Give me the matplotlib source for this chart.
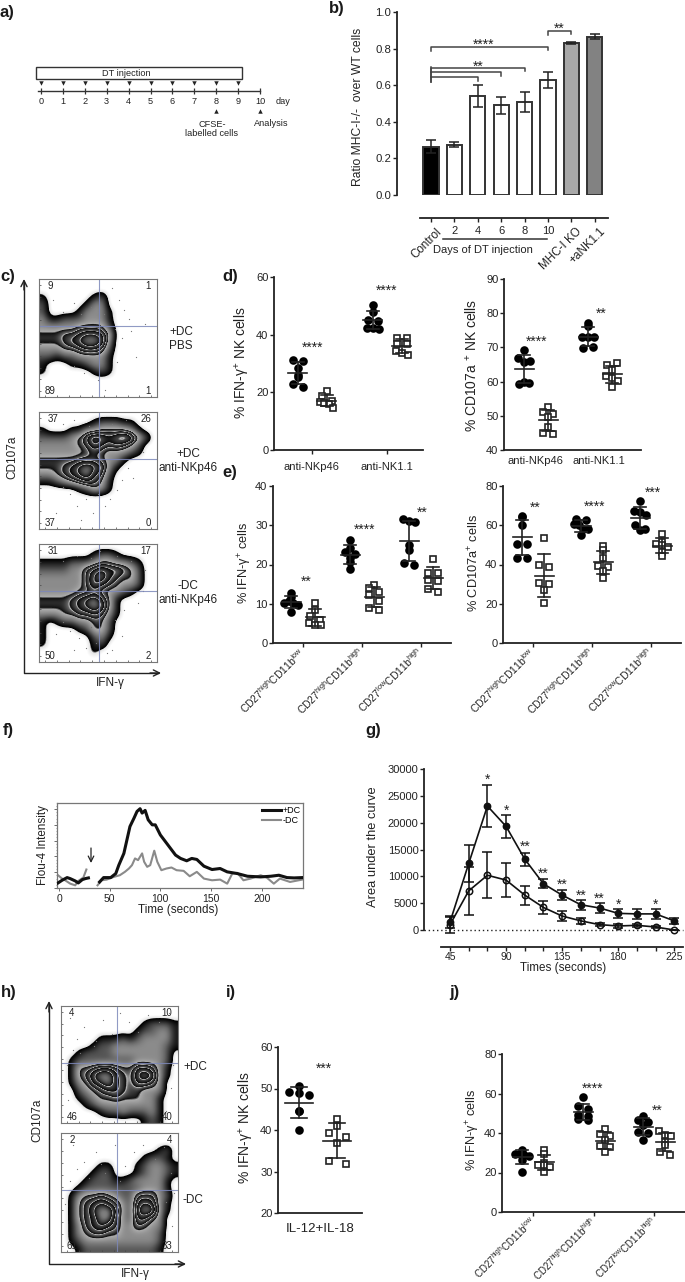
import numpy as np
import matplotlib
matplotlib.use('Agg')
import matplotlib.pyplot as plt
from matplotlib.colors import LinearSegmentedColormap
from matplotlib.patches import Rectangle
from matplotlib.ticker import MultipleLocator, NullFormatter

plt.rcParams['font.family'] = ['Liberation Sans', 'DejaVu Sans']
plt.rcParams['mathtext.fontset'] = 'custom'
plt.rcParams['mathtext.rm'] = 'Liberation Sans'
plt.rcParams['mathtext.it'] = 'Liberation Sans:italic'
plt.rcParams['mathtext.default'] = 'regular'

W, H = 685, 1282
INK = '#222222'

# ---------------------------------------------------------------------------
# a) schedule
DAYS = [0, 1, 2, 3, 4, 5, 6, 7, 8, 9, 10]
INJECTION_DAYS = [0, 1, 2, 3, 4, 5, 6, 7, 8, 9]

# b) bars
B_LABELS = ['Control', '2', '4', '6', '8', '10', 'MHC-I KO', '+aNK1.1']
B_VALUES = [0.265, 0.275, 0.54, 0.49, 0.51, 0.63, 0.83, 0.865]
B_ERRORS = [0.035, 0.012, 0.06, 0.047, 0.055, 0.043, 0.006, 0.015]
B_COLORS = ['black', 'white', 'white', 'white', 'white', 'white', '#a8a8a8', '#828282']

# d) scatter values, one list per group
D1_BLACK = [[31.2, 30.9, 28.6, 26.0, 25.2, 22.8, 21.9], [50.4, 47.9, 45.2, 44.8, 42.3, 42.3, 42.1]]
D1_WHITE = [[20.5, 18.8, 17.1, 16.6, 16.4, 15.9, 14.7], [39.0, 38.8, 36.9, 36.9, 34.2, 33.7, 32.9]]
D2_BLACK = [[69.3, 66.8, 65.8, 65.9, 60.0, 59.3, 59.5], [76.4, 77.0, 73.1, 72.9, 72.9, 69.8, 70.2]]
D2_WHITE = [[52.7, 51.0, 50.5, 49.6, 46.8, 45.1, 44.7], [64.9, 65.4, 63.4, 61.6, 61.0, 60.3, 58.3]]

# e)
E1_BLACK = [[12.7, 11.6, 10.1, 10.6, 10.1, 9.7, 7.9],
            [26.2, 24.3, 23.2, 22.8, 21.6, 20.7, 18.8],
            [31.7, 31.0, 30.9, 24.9, 23.7, 20.3, 19.9]]
E1_WHITE = [[10.3, 8.3, 6.8, 5.9, 5.1, 4.6, 4.6],
            [14.8, 13.9, 13.1, 12.3, 10.8, 9.0, 8.3],
            [21.4, 17.9, 17.8, 16.1, 15.9, 13.8, 13.1]]
E2_BLACK = [[64.6, 64.1, 59.9, 50.6, 50.6, 43.5, 43.5],
            [63.3, 62.8, 60.8, 59.9, 58.2, 58.2, 54.9],
            [72.6, 67.5, 66.7, 65.0, 59.9, 58.2, 57.4]]
E2_WHITE = [[53.5, 40.0, 38.8, 30.4, 30.0, 27.0, 20.6],
            [49.3, 47.6, 43.5, 39.2, 38.5, 36.6, 32.9],
            [55.7, 51.5, 50.6, 49.8, 49.0, 46.4, 44.2]]

# f) calcium traces, broken at the injection
F_BLACK_T = [[-1, 3, 8, 11, 16, 19, 23, 26, 29],
             [40, 44, 51, 56, 59, 64, 67, 70, 74, 77, 80, 82, 85, 88, 92, 95, 100, 105, 110,
              115, 120, 126, 131, 136, 143, 151, 159, 166, 176, 186, 199, 209, 217, 225, 232, 240]]
F_BLACK_I = [[15, 23, 31, 28, 21, 15, 25, 28, 30],
             [18, 31, 31, 43, 68, 103, 143, 183, 208, 228, 236, 223, 231, 203, 188, 188, 158, 138, 118,
              98, 88, 81, 88, 85, 65, 55, 58, 48, 43, 35, 33, 35, 38, 31, 30, 31]]
F_GRAY_T = [[-1, 3, 6, 11, 16, 19, 24, 27],
            [38, 42, 47, 54, 60, 65, 69, 72, 75, 78, 82, 84, 87, 90, 94, 97, 101, 106, 111, 116, 123,
             129, 136, 143, 151, 159, 166, 171, 176, 182, 189, 199, 205, 212, 218, 228, 240]]
F_GRAY_I = [[38, 28, 23, 13, 8, 21, 31, 55],
            [8, 23, 25, 33, 38, 48, 58, 68, 88, 83, 103, 78, 63, 68, 111, 78, 53, 58, 61, 53, 51,
             35, 48, 28, 23, 25, 13, 43, 45, 23, 28, 38, 31, 13, 28, 18, 25]]

# g) area under the curve
G_TIME = [45, 60, 75, 90, 105, 120, 135, 150, 165, 180, 195, 210, 225]
G_PLUS = [1500, 12400, 23100, 19300, 13200, 8600, 6500, 4700, 4100, 3100, 3000, 3000, 1700]
G_PLUS_ERR = [1100, 3500, 3900, 2200, 1200, 850, 900, 950, 1000, 900, 1000, 1000, 500]
G_MINUS = [1000, 7300, 10200, 9300, 6500, 4200, 2600, 1700, 1000, 750, 870, 560, 0]
G_MINUS_ERR = [1500, 4500, 4300, 3100, 1750, 1150, 1000, 600, 300, 300, 300, 200, 0]
G_STAR_T = [75, 90, 105, 120, 135, 150, 165, 180, 210]
G_STAR_Y = [28300, 22500, 15700, 10700, 8600, 6700, 6000, 5000, 5000]
G_STAR_S = ['*', '*', '**', '**', '**', '**', '**', '*', '*']

# i)
I_BLACK = [[49.2, 50.5, 48.8, 48.4, 44.6, 44.5, 39.9]]
I_WHITE = [[42.7, 40.9, 39.3, 38.2, 36.9, 32.5, 31.7]]

# j)
J_BLACK = [[31.6, 29.6, 29.6, 28.8, 28.5, 26.3, 20.5],
           [58.1, 53.7, 52.4, 49.0, 48.5, 47.3, 46.8],
           [48.7, 46.5, 45.6, 43.9, 40.6, 40.1, 36.5]]
J_WHITE = [[31.3, 29.3, 24.9, 23.7, 23.7, 22.6, 20.4],
           [41.9, 39.7, 38.4, 36.4, 33.5, 32.7, 30.3],
           [41.1, 39.2, 38.6, 35.2, 33.8, 30.5, 28.8]]

CD_LABELS = [r'CD27$^{high}$CD11b$^{low}$', r'CD27$^{high}$CD11b$^{high}$', r'CD27$^{low}$CD11b$^{high}$']

C1_GRID = ['0000000000000000', '0000000000000000', '1000000120000000', '2000001330000000',
           '2000013331000000', '3112223331000000', '3333344442000000', '4445567764000000',
           '4445678873000000', '3334456652000000', '2212233331000000', '1000112331000000',
           '1000000121000000', '0000000000000000', '0000000000000000', '0000000000000000']
C2_GRID = ['0000000000000000', '0000000122211000', '1000113344443100', '2222346876787420',
           '3333345765654200', '3333334543332100', '4444455543310000', '4445678763100000',
           '3345678652000000', '1123456541000000', '0000012431000000', '0000000000000000',
           '0000000000000000', '0000000000000000', '0000000000000000', '0000000000000000']
C3_GRID = ['0000000000000000', '0000000122100000', '1111222344332100', '2222335676654200',
           '3333335786544200', '3333335765433200', '3333344543321000', '4444567864100000',
           '4444567874100000', '3334455653100000', '1012233442000000', '1000012442000000',
           '1000000231000000', '1000000120000000', '0000000100000000', '0000000000000000']
H1_GRID = ['0000000000000000', '0000000000000000', '0000000000012221', '0000000000122331',
           '0000011121233331', '0000122333333321', '0012222333333320', '0122222222333320',
           '0144566544665310', '0145788654787310', '0134678654665300', '0023456654433300',
           '0012344544433100', '0001233333333100', '0000012232223100', '0000000000012100']
H2_GRID = ['0000000000000000', '0000000000000000', '0000000000000120', '0000000000012210',
           '0000011000123321', '0000122000123321', '0001222112333310', '0012222222233310',
           '0134454322555320', '0145676532676310', '0145788632788310', '0145688532664300',
           '0135676533543300', '0134554433333200', '0123333333333200', '0012222222222100']

# Stray events around the populations, axes fractions
C1_DOTS_X = [.12, .2, .3, .36, .44, .55, .62, .68, .72, .76, .64, .7, .78, .3, .38, .5, .56, .66, .82, .9]
C1_DOTS_Y = [.82, .72, .8, .7, .76, .7, .92, .82, .74, .66, .58, .5, .56, .26, .2, .14, .06, .3, .34, .62]
C2_DOTS_X = [.2, .3, .42, .52, .62, .74, .84, .88, .92, .75, .8, .7, .66, .6, .2, .26, .32, .4, .46, .56, .14, .36, .5]
C2_DOTS_Y = [.9, .93, .88, .96, .9, .93, .82, .66, .74, .52, .44, .42, .33, .26, .36, .3, .2, .26, .14, .2, .14, .08, .3]
C3_DOTS_X = [.2, .32, .44, .52, .66, .78, .9, .88, .84, .72, .64, .7, .62, .2, .26, .34, .4, .48, .58, .14, .3, .44]
C3_DOTS_Y = [.86, .9, .88, .94, .9, .86, .78, .6, .5, .44, .36, .22, .1, .34, .26, .2, .12, .16, .08, .24, .1, .3]
H1_DOTS_X = [.08, .14, .2, .28, .36, .44, .5, .58, .66, .74, .84, .92, .05, .1, .06, .96, .94, .9, .3, .16]
H1_DOTS_Y = [.9, .72, .82, .66, .88, .76, .94, .86, .78, .92, .86, .94, .5, .62, .2, .5, .3, .1, .7, .6]
H2_DOTS_X = [.1, .2, .3, .38, .46, .55, .62, .7, .8, .88, .94, .08, .14, .24, .34, .5, .9, .97, .95, .03]
H2_DOTS_Y = [.9, .76, .84, .66, .9, .72, .84, .9, .78, .88, .66, .6, .7, .62, .74, .6, .42, .5, .22, .4]

FLOW_CMAP = LinearSegmentedColormap.from_list('flow', [
    (0.0, '#ffffff'), (0.012, '#ffffff'), (0.05, '#e4e4e4'), (0.066, '#000000'), (0.13, '#222222'),
    (0.25, '#666666'), (0.4, '#aaaaaa'), (0.42, '#111111'), (0.49, '#666666'), (0.505, '#b8b8b8'), (0.52, '#111111'),
    (0.6, '#555555'), (0.615, '#b8b8b8'), (0.63, '#0a0a0a'), (0.72, '#444444'), (0.735, '#b8b8b8'),
    (0.75, '#111111'), (0.86, '#777777'), (1.0, '#cccccc')], N=1024)

fig = plt.figure(figsize=(W / 100, H / 100), dpi=100, facecolor='white')


def px_axes(x0, y0, x1, y1, **kw):
    return fig.add_axes([x0 / W, 1 - y1 / H, (x1 - x0) / W, (y1 - y0) / H], **kw)


ov = px_axes(0, 0, W, H, zorder=10)
ov.set_xlim(0, W)
ov.set_ylim(H, 0)
ov.axis('off')
ov.patch.set_alpha(0)


def txt(x, y, s, size=7.5, ha='center', va='center', **kw):
    kw.setdefault('color', INK)
    ov.text(x, y, s, fontsize=size, ha=ha, va=va, **kw)


def stars(x, y, s):
    txt(x, y + 1.5, s, size=10)


def arrow(x0, y0, x1, y1, lw=1.0, ms=11):
    ov.annotate('', xy=(x1, y1), xytext=(x0, y0),
                arrowprops=dict(arrowstyle='->', lw=lw, color=INK, mutation_scale=ms,
                                shrinkA=0, shrinkB=0))


# ---------------------------------------------------------------------------
def style_axis(ax):
    for side in ('top', 'right'):
        ax.spines[side].set_visible(False)
    for side in ('left', 'bottom'):
        ax.spines[side].set_linewidth(1.3)
        ax.spines[side].set_color(INK)
    ax.tick_params(labelsize=8, pad=1, length=3, width=1.0, color=INK, labelcolor=INK)
    ax.patch.set_alpha(0)


def swarm_offsets(vals, px_per_unit, bin_px=6.5, scale=1.0):
    # same row -> spread symmetrically, like Prism does
    bins = np.round(np.array(vals) * px_per_unit / bin_px).astype(int)
    off = np.zeros(len(vals))
    for b in set(bins):
        idx = np.where(bins == b)[0]
        n = len(idx)
        step = {1: 0, 2: 10.0, 3: 6.0}.get(n, 4.5)
        off[idx] = (np.arange(n) - (n - 1) / 2) * step * scale
    return off


def dot_panel(box, ylim, yticks, tick_px, side_px, black, white, mean_px=9.5, cap_px=6, labels=None,
              bin_px=6.5, scale=1.0, label_size=7.5):
    x0, y0, x1, y1 = box
    ax = px_axes(x0, y0, x1, y1)
    style_axis(ax)
    ax.set_xlim(x0, x1)
    ax.set_ylim(*ylim)
    ax.spines['left'].set_bounds(*ylim)
    ax.set_yticks(yticks)
    ppu = (y1 - y0) / (ylim[1] - ylim[0])
    for i, tp in enumerate(tick_px):
        for vals, cx, face in ((black[i], tp - side_px, 'black'), (white[i], tp + side_px, 'white')):
            xs = cx + swarm_offsets(vals, ppu, bin_px, scale)
            if face == 'black':
                ax.plot(xs, vals, 'o', ms=6.2, mfc='black', mec='black', mew=0, zorder=3, clip_on=False)
            else:
                ax.plot(xs, vals, 's', ms=5.0, mfc='white', mec=INK, mew=1.2, zorder=3, clip_on=False)
            m, s = np.mean(vals), np.std(vals, ddof=1)
            ax.plot([cx, cx], [m - s, m + s], color=INK, lw=1.2, zorder=4)
            ax.plot([cx - mean_px, cx + mean_px], [m, m], color=INK, lw=1.2, zorder=4)
            for yy in (m - s, m + s):
                ax.plot([cx - cap_px, cx + cap_px], [yy, yy], color=INK, lw=1.2, zorder=4)
    if labels is None:
        ax.set_xticks([])
    else:
        ax.set_xticks(tick_px)
        ax.set_xticklabels(labels, rotation=45, ha='right', va='center', rotation_mode='anchor', fontsize=label_size)
        ax.tick_params(axis='x', pad=2)
    return ax


def flow_plot(box, grid, cross, dots_x, dots_y, nums):
    x0, y0, x1, y1 = box
    ax = px_axes(x0, y0, x1, y1)
    dens = np.array([[int(c) for c in row] for row in grid], dtype=float)
    ax.imshow(dens, extent=(0, 1, 0, 1), cmap=FLOW_CMAP, vmin=0, vmax=9, aspect='auto',
              interpolation='bicubic', interpolation_stage='data')
    ax.scatter(dots_x, dots_y, s=0.8, color='#777777', linewidths=0)
    ax.axvline(cross[0], color='#7d88ba', lw=0.8, alpha=0.85)
    ax.axhline(cross[1], color='#7d88ba', lw=0.8, alpha=0.85)
    ax.set_xlim(0, 1)
    ax.set_ylim(0, 1)
    ax.set_xticks(np.arange(0.05, 1, 0.1))
    ax.set_yticks(np.arange(0.05, 1, 0.1))
    ax.tick_params(direction='in', length=1.5, width=0.5, labelleft=False, labelbottom=False, color='#444444')
    for sp in ax.spines.values():
        sp.set_color('#777777')
        sp.set_linewidth(0.8)
    pos = [(0.07, 0.94, 'left'), (0.95, 0.94, 'right'), (0.05, 0.05, 'left'), (0.95, 0.05, 'right')]
    for (fx, fy, ha), n in zip(pos, nums):
        ax.text(fx, fy, n, fontsize=7, ha=ha, va='center', color=INK, transform=ax.transAxes)
    return ax


# ---------------------------------------------------------------------------
# panel letters
for (lx, ly, s) in [(0, 12, 'a)'), (329, 9, 'b)'), (0, 277, 'c)'), (222, 277, 'd)'), (222, 473, 'e)'),
                    (3, 730, 'f)'), (365, 730, 'g)'), (1, 993, 'h)'), (226, 993, 'i)'), (449, 993, 'j)')]:
    txt(lx, ly, s, size=12, ha='left', weight='bold', color='#1a1a1a')

# a) ------------------------------------------------------------------------
ax_a = px_axes(20, 60, 300, 140)
ax_a.set_xlim((20 - 41) / 21.9, (300 - 41) / 21.9)
ax_a.set_ylim(140, 60)
ax_a.axis('off')
ax_a.add_patch(Rectangle((-0.23, 67), 9.43, 12, fc='white', ec='#333333', lw=1.0))
ax_a.plot([-0.15, 10], [91, 91], color='#333333', lw=1.0)
ax_a.plot(DAYS, [91] * len(DAYS), '|', color='#333333', ms=4, mew=0.9)
ax_a.plot(INJECTION_DAYS, [83] * len(INJECTION_DAYS), 'v', color='#222222', ms=3.2, mew=0)
ax_a.plot([8, 10], [111, 111], '^', color='#222222', ms=3.2, mew=0)
for d in DAYS:
    ax_a.text(d, 102, str(d), fontsize=6.6, ha='center', va='center', color=INK)
txt(126, 73, 'DT injection', size=6.6)
txt(283, 102, 'day', size=6.6)
txt(212, 129, 'CFSE-\nlabelled cells', size=6.6, linespacing=1.1)
txt(271, 123, 'Analysis', size=6.6)

# b) ------------------------------------------------------------------------
ax_b = px_axes(397, 12, 608, 195)
style_axis(ax_b)
pos_b = np.arange(len(B_VALUES))
ax_b.bar(pos_b, B_VALUES, width=0.65, color=B_COLORS, edgecolor='#333333', linewidth=1.4,
         yerr=B_ERRORS, error_kw=dict(ecolor='#222222', elinewidth=1.1, capsize=3.3, capthick=1.1))
ax_b.set_xlim(-1.45, 7.56)
ax_b.set_ylim(0, 1)
ax_b.set_yticks(np.arange(0, 1.01, 0.2))
ax_b.set_yticklabels(['%.1f' % v for v in np.arange(0, 1.01, 0.2)], fontsize=8.2)
ax_b.spines['bottom'].set_position(('outward', 16.5))
ax_b.spines['bottom'].set_bounds(-0.47, 7.56)
ax_b.set_xticks(pos_b)
ax_b.set_xticklabels([])
for (a, b, yy) in [(0, 5, 0.81), (0, 4, 0.696), (0, 3, 0.672), (0, 2, 0.645), (5, 6, 0.898)]:
    ax_b.plot([a, a, b, b], [yy - 0.025, yy, yy, yy - 0.02], color='#444444', lw=1.1)
ax_b.plot([0, 0], [0.62, 0.70], color='#444444', lw=1.1)
stars(484, 43, '****')
stars(478, 65, '**')
stars(559, 27, '**')
txt(358, 107, 'Ratio MHC-I-/-  over WT cells', size=8.7, rotation=90)
for p, s in zip(pos_b[1:6], B_LABELS[1:6]):
    ax_b.annotate(s, (p, 0), xytext=(0, -26), textcoords='offset points', ha='center', va='center',
                  fontsize=8, color=INK, annotation_clip=False)
for p, s in [(0, B_LABELS[0]), (6, B_LABELS[6]), (7, B_LABELS[7])]:
    ax_b.annotate(s, (p, 0), xytext=(3, -22), textcoords='offset points', ha='right', va='top', rotation=45,
                  rotation_mode='anchor', fontsize=8.4, color=INK, annotation_clip=False)
ov.plot([443, 547], [239, 239], color='#333333', lw=1.1)
txt(483, 250, 'Days of DT injection', size=8)

# c) ------------------------------------------------------------------------
flow_plot((39, 279, 157, 397), C1_GRID, (0.51, 0.6), C1_DOTS_X, C1_DOTS_Y, ['9', '1', '89', '1'])
flow_plot((39, 412, 157, 529), C2_GRID, (0.51, 0.6), C2_DOTS_X, C2_DOTS_Y, ['37', '26', '37', '0'])
flow_plot((39, 544, 157, 662), C3_GRID, (0.51, 0.6), C3_DOTS_X, C3_DOTS_Y, ['31', '17', '50', '2'])
ov.plot([24, 24, 158], [282, 673, 673], color=INK, lw=1.0)
arrow(24, 290, 24, 279)
arrow(150, 673, 161, 673)
txt(12, 457, 'CD107a', size=8.5, rotation=90)
txt(110, 683, 'IFN-γ', size=8.5)
txt(181, 339, '+DC\nPBS', size=8.5, linespacing=1.2)
txt(188, 461, '+DC\nanti-NKp46', size=8.5, linespacing=1.2)
txt(188, 593, '-DC\nanti-NKp46', size=8.5, linespacing=1.2)

# d) ------------------------------------------------------------------------
ax = dot_panel((274, 277, 423, 450), (0, 60), [0, 20, 40, 60], [312, 387], 14.5, D1_BLACK, D1_WHITE)
ax.set_xticks([312, 387])
ax.set_xticklabels([])
txt(243, 363, '% IFN-γ$^{+}$ NK cells', size=10, rotation=90)
stars(313, 346, '****')
stars(387, 289, '****')
txt(311, 467, 'anti-NKp46', size=8)
txt(387, 467, 'anti-NK1.1', size=8)

ax = dot_panel((504, 279, 641, 450), (40, 90), [40, 50, 60, 70, 80, 90], [536, 600], 12, D2_BLACK, D2_WHITE)
txt(472, 365, '% CD107a $^{+}$ NK cells', size=10, rotation=90)
stars(537, 340, '****')
stars(601, 312, '**')
txt(535, 461, 'anti-NKp46', size=8)
txt(599, 461, 'anti-NK1.1', size=8)

# e) ------------------------------------------------------------------------
dot_panel((273, 486, 451, 643), (0, 40), [0, 10, 20, 30, 40], [303, 362, 421], 12, E1_BLACK, E1_WHITE,
          labels=CD_LABELS)
txt(245, 563, '% IFN-γ$^{+}$ cells', size=9.2, rotation=90)
stars(306, 580, '**')
stars(365, 528, '****')
stars(422, 511, '**')

dot_panel((503, 486, 681, 643), (0, 80), [0, 20, 40, 60, 80], [533, 592, 651], 11, E2_BLACK, E2_WHITE,
          labels=CD_LABELS)
txt(474, 563, '% CD107a$^{+}$ cells', size=9.2, rotation=90)
stars(535, 506, '**')
stars(595, 505, '****')
stars(653, 491, '***')

# f) ------------------------------------------------------------------------
ax_f = px_axes(57, 803, 303, 888)
ax_f.set_xlim(-2, 240.8)
ax_f.set_ylim(0, 253)
for i in range(2):
    ax_f.plot(F_GRAY_T[i], F_GRAY_I[i], color='#8a8a8a', lw=1.5, ls='-', zorder=2,
              label='-DC' if i == 0 else None)
for i in range(2):
    ax_f.plot(F_BLACK_T[i], F_BLACK_I[i], color='#111111', lw=2.2, zorder=3,
              label='+DC' if i == 0 else None)
handles, labels = ax_f.get_legend_handles_labels()
ax_f.legend(handles[::-1], labels[::-1], loc='upper right', frameon=False, fontsize=6.5, handlelength=2.1,
            handletextpad=0.1, labelspacing=0.15, borderaxespad=0.1, borderpad=0.2)
ax_f.set_xticks([0, 50, 100, 150, 200])
ax_f.yaxis.set_major_locator(MultipleLocator(47))
ax_f.yaxis.set_minor_locator(MultipleLocator(47 / 5))
ax_f.yaxis.set_major_formatter(NullFormatter())
ax_f.tick_params(axis='y', which='major', length=2, width=0.6, color='#555555')
ax_f.tick_params(axis='y', which='minor', length=1, width=0.4, color='#555555')
ax_f.tick_params(axis='x', labelsize=7.5, pad=2, length=2, width=0.6, color='#555555', labelcolor=INK)
for sp in ax_f.spines.values():
    sp.set_color('#777777')
    sp.set_linewidth(0.9)
txt(43, 845, 'Flou-4 Intensity', size=8.4, rotation=90)
txt(178, 910, 'Time (seconds)', size=8.4)
arrow(91, 848, 91, 863, lw=0.9, ms=10)

# g) ------------------------------------------------------------------------
ax_g = px_axes(424, 769, 683, 930)
style_axis(ax_g)
ax_g.set_xlim(24.1, 232)
ax_g.set_ylim(0, 30000)
ax_g.axhline(0, color='#222222', lw=1.0, ls=(0, (1, 2)), clip_on=False, zorder=1)
eb = dict(color='#111111', lw=1.2, elinewidth=1.1, capsize=3.6, capthick=1.1, clip_on=False)
ax_g.errorbar(G_TIME, G_PLUS, yerr=G_PLUS_ERR, fmt='o-', ms=4.6, mfc='#111111', mec='#111111', zorder=3, **eb)
ax_g.errorbar(G_TIME, G_MINUS, yerr=G_MINUS_ERR, fmt='o-', ms=4.6, mfc='none', mec='#111111', mew=1.1, zorder=3, **eb)
for t, v, s in zip(G_STAR_T, G_STAR_Y, G_STAR_S):
    ax_g.annotate(s, (t, v), xytext=(0, -1), textcoords='offset points', fontsize=10, ha='center', va='center', color=INK)
ax_g.set_yticks([0, 5000, 10000, 15000, 20000, 25000, 30000])
ax_g.spines['bottom'].set_position(('outward', 12))
ax_g.spines['bottom'].set_bounds(37.8, 232)
ax_g.set_xticks([45, 90, 135, 180, 225])
ax_g.set_xticks(G_TIME, minor=True)
ax_g.tick_params(axis='x', which='minor', length=3, width=1.0, color=INK)
for lab in ax_g.get_xticklabels():
    lab.set_fontsize(7.5)
txt(373, 847, 'Area under the curve', size=9.3, rotation=90)
txt(563, 968, 'Times (seconds)', size=8.4)

# h) ------------------------------------------------------------------------
flow_plot((61, 1006, 178, 1123), H1_GRID, (0.48, 0.51), H1_DOTS_X, H1_DOTS_Y, ['4', '10', '46', '40'])
flow_plot((61, 1133, 178, 1252), H2_GRID, (0.48, 0.52), H2_DOTS_X, H2_DOTS_Y, ['2', '4', '61', '33'])
ov.plot([49, 49, 183], [1004, 1264, 1264], color=INK, lw=1.0)
arrow(49, 1012, 49, 1001)
arrow(175, 1264, 186, 1264)
txt(37, 1120, 'CD107a', size=8.5, rotation=90)
txt(135, 1274, 'IFN-γ', size=8.5)
txt(195, 1067, '+DC', size=8.5)
txt(193, 1200, '-DC', size=8.5)

# i) ------------------------------------------------------------------------
dot_panel((278, 1047, 362, 1213), (20, 60), [20, 30, 40, 50, 60], [318], 19, I_BLACK, I_WHITE,
          mean_px=14, cap_px=8, bin_px=10, scale=1.7)
txt(247, 1128, '% IFN-γ$^{+}$ NK cells', size=10, rotation=90)
stars(324, 1067, '***')
txt(320, 1229, 'IL-12+IL-18', size=9.5)

# j) ------------------------------------------------------------------------
dot_panel((502, 1054, 685, 1212), (0, 80), [0, 20, 40, 60, 80], [533, 594, 654], 11, J_BLACK, J_WHITE,
          labels=CD_LABELS, label_size=7.0)
txt(473, 1130, '% IFN-γ$^{+}$ cells', size=9.2, rotation=90)
stars(593, 1087, '****')
stars(657, 1109, '**')

fig.savefig('out.png', dpi=100)
